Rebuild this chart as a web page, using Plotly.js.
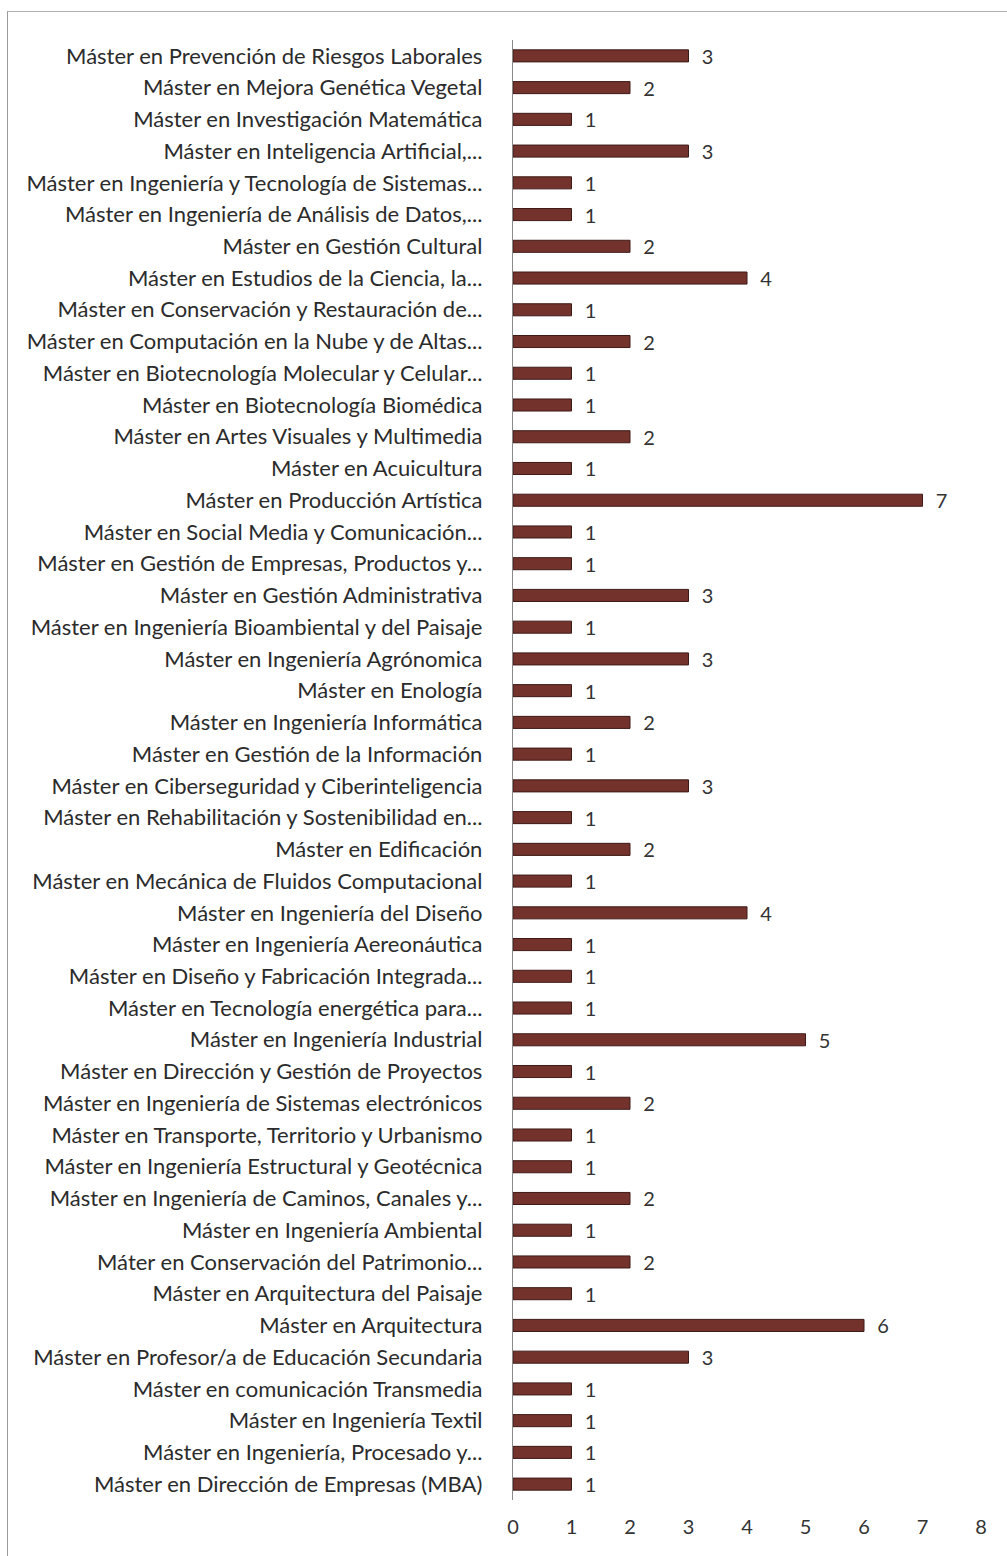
<!DOCTYPE html>
<html>
<head>
<meta charset="utf-8">
<script src="https://cdn.plot.ly/plotly-3.0.1.min.js"></script>
<style>
  html, body { margin: 0; padding: 0; background: #fff; }
  #chart { width: 1007px; height: 1556px; position: relative; }
  #frame { position: absolute; left: 7px; top: 11px; width: 1000px; height: 1545px;
           border-left: 1.5px solid #9a9a9a; border-top: 1.5px solid #b0b0b0; pointer-events: none; }
</style>
</head>
<body>
<div id="chart"></div>
<div id="frame"></div>
<script>
// Categories listed top to bottom as they appear
const categories = [
  "Máster en Prevención de Riesgos Laborales",
  "Máster en Mejora Genética Vegetal",
  "Máster en Investigación Matemática",
  "Máster en Inteligencia Artificial,...",
  "Máster en Ingeniería y Tecnología de Sistemas...",
  "Máster en Ingeniería de Análisis de Datos,...",
  "Máster en Gestión Cultural",
  "Máster en Estudios de la Ciencia, la...",
  "Máster en Conservación y Restauración de...",
  "Máster en Computación en la Nube y de Altas...",
  "Máster en Biotecnología Molecular y Celular...",
  "Máster en Biotecnología Biomédica",
  "Máster en Artes Visuales y Multimedia",
  "Máster en Acuicultura",
  "Máster en Producción Artística",
  "Máster en Social Media y Comunicación...",
  "Máster en Gestión de Empresas, Productos y...",
  "Máster en Gestión Administrativa",
  "Máster en Ingeniería Bioambiental y del Paisaje",
  "Máster en Ingeniería Agrónomica",
  "Máster en Enología",
  "Máster en Ingeniería Informática",
  "Máster en Gestión de la Información",
  "Máster en Ciberseguridad y Ciberinteligencia",
  "Máster en Rehabilitación y Sostenibilidad en...",
  "Máster en Edificación",
  "Máster en Mecánica de Fluidos Computacional",
  "Máster en Ingeniería del Diseño",
  "Máster en Ingeniería Aereonáutica",
  "Máster en Diseño y Fabricación Integrada...",
  "Máster en Tecnología energética para...",
  "Máster en Ingeniería Industrial",
  "Máster en Dirección y Gestión de Proyectos",
  "Máster en Ingeniería de Sistemas electrónicos",
  "Máster en Transporte, Territorio y Urbanismo",
  "Máster en Ingeniería Estructural y Geotécnica",
  "Máster en Ingeniería de Caminos, Canales y...",
  "Máster en Ingeniería Ambiental",
  "Máter en Conservación del Patrimonio...",
  "Máster en Arquitectura del Paisaje",
  "Máster en Arquitectura",
  "Máster en Profesor/a de Educación Secundaria",
  "Máster en comunicación Transmedia",
  "Máster en Ingeniería Textil",
  "Máster en Ingeniería, Procesado y...",
  "Máster en Dirección de Empresas (MBA)"
];
const values = [
  3, 2, 1, 3, 1, 1, 2, 4, 1, 2,
  1, 1, 2, 1, 7, 1, 1, 3, 1, 3,
  1, 2, 1, 3, 1, 2, 1, 4, 1, 1,
  1, 5, 1, 2, 1, 1, 2, 1, 2, 1,
  6, 3, 1, 1, 1, 1
];
const xTicks = [0, 1, 2, 3, 4, 5, 6, 7, 8];

const FONT = "Lato, 'Open Sans', sans-serif";
const NB = "\u00a0";

const trace = {
  type: "bar",
  orientation: "h",
  y: categories,
  x: values,
  text: values.map(v => NB + NB + v),
  textposition: "outside",
  constraintext: "none",
  cliponaxis: false,
  textfont: { family: FONT, size: 20, color: "#333333" },
  marker: { color: "#74322d", line: { color: "#3e1a17", width: 1 } },
  hoverinfo: "skip"
};

const layout = {
  width: 1007,
  height: 1556,
  margin: { l: 513, r: 26, t: 40, b: 56 },
  paper_bgcolor: "#ffffff",
  plot_bgcolor: "#ffffff",
  showlegend: false,
  bargap: 0.62,
  font: { family: FONT, color: "#2b2b2b" },
  xaxis: {
    range: [0, 8],
    tickvals: xTicks,
    ticktext: xTicks.map(String),
    showgrid: false,
    zeroline: false,
    showline: false,
    ticks: "",
    tickfont: { family: FONT, size: 20, color: "#333333" },
    ticklabelstandoff: 13,
    fixedrange: true
  },
  yaxis: {
    type: "category",
    autorange: "reversed",
    showgrid: false,
    zeroline: false,
    showline: true,
    linecolor: "#8a8a8a",
    linewidth: 1.2,
    ticks: "",
    tickfont: { family: FONT, size: 22, color: "#2b2b2b" },
    ticklabelstandoff: 25,
    automargin: false,
    fixedrange: true
  }
};

Plotly.newPlot("chart", [trace], layout, { displayModeBar: false, staticPlot: true });
</script>
</body>
</html>
